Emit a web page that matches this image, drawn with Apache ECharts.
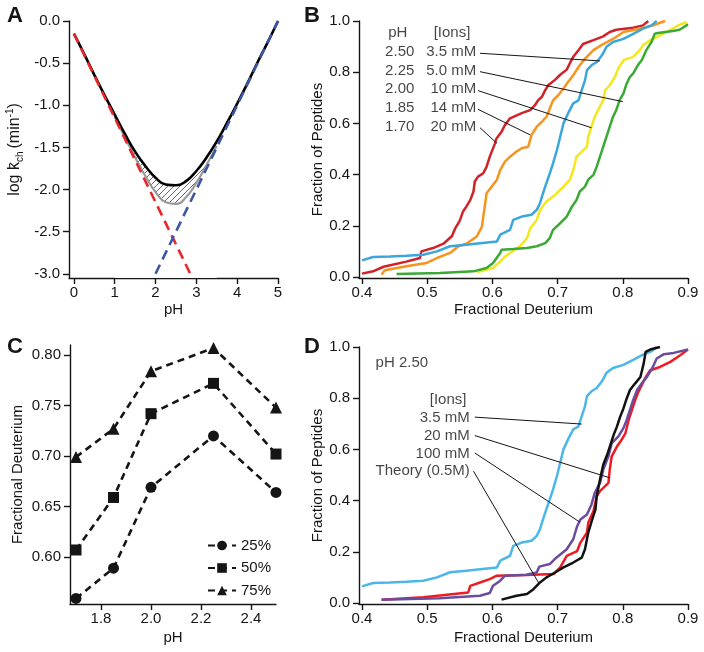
<!DOCTYPE html>
<html lang="en">
<head>
<meta charset="utf-8" />
<script src="https://cdn.jsdelivr.net/npm/echarts@6/dist/echarts.min.js"></script>
<title>HDX panels</title>
<style>
  html, body { margin: 0; padding: 0; background: #fff; }
  #fig { width: 704px; height: 652px; }
</style>
</head>
<body>
<div id="fig"></div>
<script>
// ---------- A: log kch vs pH
var acidLine = [[0, -0.15], [2.85, -3.0]];
var baseLine = [[2.0, -3.0], [5, 0]];
var kchTotal = [[0, -0.15], [0.25, -0.39], [0.5, -0.64], [0.75, -0.88], [1, -1.11], [1.25, -1.34],
  [1.5, -1.55], [1.75, -1.72], [2, -1.86], [2.25, -1.94], [2.5, -1.95], [2.75, -1.9], [3, -1.78],
  [3.25, -1.62], [3.5, -1.43], [3.75, -1.21], [4, -0.98], [4.25, -0.74], [4.5, -0.49], [4.75, -0.25], [5, 0]];
var kchLow = [[1, -1.14], [1.25, -1.38], [1.5, -1.62], [1.75, -1.84], [2, -2.03], [2.25, -2.15],
  [2.5, -2.17], [2.75, -2.09], [3, -1.92], [3.25, -1.71], [3.5, -1.48]];
var aYTicks = [-3, -2.5, -2, -1.5, -1, -0.5, 0];
var aXTicks = [0, 1, 2, 3, 4, 5];

// ---------- B: cumulative fraction vs fractional deuterium
var bIon20 = [[0.4, 0.013], [0.417, 0.022], [0.433, 0.04], [0.468, 0.06], [0.489, 0.074], [0.491, 0.1],
  [0.509, 0.113], [0.525, 0.13], [0.538, 0.16], [0.543, 0.19], [0.55, 0.22], [0.555, 0.256], [0.56, 0.275],
  [0.566, 0.3], [0.571, 0.334], [0.573, 0.373], [0.578, 0.392], [0.586, 0.405], [0.591, 0.43], [0.596, 0.47],
  [0.604, 0.522], [0.606, 0.54], [0.614, 0.567], [0.619, 0.593], [0.627, 0.62], [0.645, 0.64], [0.658, 0.652],
  [0.665, 0.67], [0.67, 0.69], [0.676, 0.704], [0.681, 0.73], [0.686, 0.75], [0.696, 0.77], [0.704, 0.79],
  [0.714, 0.81], [0.719, 0.836], [0.724, 0.86], [0.732, 0.886], [0.739, 0.91], [0.755, 0.925], [0.77, 0.94],
  [0.78, 0.957], [0.79, 0.966], [0.816, 0.974], [0.831, 0.983], [0.839, 1.0]];
var bIon14 = [[0.43, 0.01], [0.435, 0.026], [0.468, 0.042], [0.499, 0.055], [0.515, 0.074], [0.535, 0.094],
  [0.548, 0.12], [0.56, 0.13], [0.576, 0.158], [0.584, 0.197], [0.586, 0.236], [0.589, 0.288], [0.591, 0.327],
  [0.599, 0.353], [0.607, 0.38], [0.612, 0.418], [0.619, 0.45], [0.627, 0.47], [0.637, 0.49], [0.645, 0.503],
  [0.655, 0.509], [0.66, 0.555], [0.668, 0.587], [0.676, 0.607], [0.683, 0.626], [0.688, 0.658], [0.693, 0.69],
  [0.701, 0.71], [0.709, 0.736], [0.716, 0.762], [0.724, 0.788], [0.732, 0.82], [0.742, 0.853], [0.755, 0.886],
  [0.77, 0.91], [0.785, 0.93], [0.801, 0.957], [0.826, 0.97], [0.847, 0.983], [0.86, 0.996], [0.865, 1.0]];
var bIon10 = [[0.576, 0.018], [0.601, 0.035], [0.612, 0.061], [0.617, 0.074], [0.627, 0.094], [0.642, 0.12],
  [0.653, 0.152], [0.658, 0.19], [0.668, 0.223], [0.673, 0.262], [0.683, 0.295], [0.696, 0.32], [0.709, 0.353],
  [0.719, 0.38], [0.724, 0.418], [0.729, 0.47], [0.737, 0.49], [0.745, 0.509], [0.747, 0.548], [0.752, 0.587],
  [0.757, 0.626], [0.762, 0.652], [0.77, 0.69], [0.773, 0.73], [0.78, 0.749], [0.788, 0.782], [0.793, 0.814],
  [0.801, 0.847], [0.816, 0.86], [0.826, 0.886], [0.831, 0.905], [0.842, 0.925], [0.857, 0.944], [0.872, 0.964],
  [0.885, 0.983], [0.898, 0.996]];
var bIon5 = [[0.453, 0.012], [0.52, 0.016], [0.571, 0.022], [0.591, 0.035], [0.601, 0.055], [0.612, 0.094],
  [0.614, 0.106], [0.632, 0.109], [0.653, 0.113], [0.668, 0.12], [0.681, 0.132], [0.688, 0.152], [0.693, 0.184],
  [0.704, 0.21], [0.714, 0.236], [0.722, 0.275], [0.729, 0.301], [0.734, 0.334], [0.742, 0.353], [0.747, 0.38],
  [0.755, 0.399], [0.76, 0.431], [0.765, 0.47], [0.77, 0.509], [0.775, 0.548], [0.78, 0.587], [0.785, 0.626],
  [0.79, 0.652], [0.795, 0.69], [0.801, 0.717], [0.806, 0.756], [0.811, 0.782], [0.816, 0.795], [0.823, 0.827],
  [0.829, 0.847], [0.836, 0.886], [0.844, 0.918], [0.849, 0.95], [0.854, 0.953], [0.877, 0.961], [0.887, 0.966],
  [0.9, 0.987]];
var bIon35 = [[0.4, 0.065], [0.417, 0.078], [0.443, 0.08], [0.468, 0.083], [0.494, 0.087], [0.515, 0.1],
  [0.535, 0.12], [0.56, 0.126], [0.581, 0.132], [0.607, 0.139], [0.612, 0.165], [0.627, 0.184], [0.632, 0.223],
  [0.645, 0.236], [0.66, 0.243], [0.668, 0.262], [0.673, 0.288], [0.676, 0.314], [0.681, 0.353], [0.688, 0.405],
  [0.693, 0.444], [0.699, 0.496], [0.704, 0.548], [0.709, 0.6], [0.716, 0.639], [0.724, 0.678], [0.732, 0.69],
  [0.737, 0.73], [0.742, 0.768], [0.745, 0.808], [0.752, 0.827], [0.76, 0.84], [0.768, 0.866], [0.775, 0.899],
  [0.785, 0.918], [0.801, 0.93], [0.816, 0.95], [0.831, 0.97], [0.844, 0.983], [0.852, 1.0]];
var bRowsPH = ['2.50', '2.25', '2.00', '1.85', '1.70'];
var bRowsIon = ['3.5 mM', '5.0 mM', '10 mM', '14 mM', '20 mM'];
var fracTicks = [0, 0.2, 0.4, 0.6, 0.8, 1.0];
var deutTicks = [0.4, 0.5, 0.6, 0.7, 0.8, 0.9];

// ---------- C: fractional deuterium quantiles vs pH
var phList = [1.70, 1.85, 2.00, 2.25, 2.50];
var frac25 = [0.559, 0.589, 0.669, 0.720, 0.664];
var frac50 = [0.607, 0.659, 0.742, 0.772, 0.702];
var frac75 = [0.699, 0.727, 0.784, 0.807, 0.748];
var cYTicks = [0.60, 0.65, 0.70, 0.75, 0.80];
var cXTicks = [1.8, 2.0, 2.2, 2.4];

// ---------- D: pH 2.50, different ion strengths
var dIon20 = [[0.43, 0.013], [0.494, 0.022], [0.563, 0.041], [0.566, 0.067], [0.581, 0.08], [0.596, 0.093],
  [0.606, 0.106], [0.652, 0.109], [0.694, 0.113], [0.704, 0.139], [0.714, 0.184], [0.73, 0.203], [0.735, 0.236],
  [0.745, 0.275], [0.747, 0.313], [0.755, 0.359], [0.76, 0.417], [0.765, 0.437], [0.778, 0.469], [0.78, 0.521],
  [0.783, 0.573], [0.791, 0.611], [0.798, 0.637], [0.804, 0.663], [0.809, 0.715], [0.814, 0.754], [0.819, 0.793],
  [0.824, 0.825], [0.829, 0.851], [0.834, 0.877], [0.842, 0.909], [0.857, 0.922], [0.873, 0.942], [0.888, 0.968],
  [0.9, 0.99]];
var dIon100 = [[0.43, 0.013], [0.519, 0.018], [0.581, 0.028], [0.596, 0.039], [0.601, 0.067], [0.612, 0.087],
  [0.619, 0.106], [0.652, 0.11], [0.668, 0.119], [0.672, 0.142], [0.688, 0.152], [0.698, 0.177], [0.714, 0.21],
  [0.724, 0.249], [0.73, 0.3], [0.735, 0.326], [0.745, 0.346], [0.752, 0.385], [0.757, 0.43], [0.765, 0.469],
  [0.77, 0.521], [0.778, 0.573], [0.783, 0.624], [0.793, 0.65], [0.801, 0.683], [0.806, 0.715], [0.811, 0.754],
  [0.816, 0.793], [0.822, 0.832], [0.829, 0.858], [0.837, 0.883], [0.845, 0.916], [0.852, 0.955], [0.863, 0.972],
  [0.878, 0.977], [0.9, 0.99]];
var dTheory = [[0.614, 0.013], [0.637, 0.028], [0.653, 0.035], [0.663, 0.054], [0.673, 0.08], [0.683, 0.1],
  [0.696, 0.119], [0.709, 0.139], [0.724, 0.158], [0.737, 0.177], [0.742, 0.21], [0.747, 0.275], [0.753, 0.326],
  [0.758, 0.365], [0.76, 0.417], [0.765, 0.482], [0.77, 0.54], [0.776, 0.579], [0.781, 0.618], [0.786, 0.657],
  [0.791, 0.689], [0.796, 0.728], [0.801, 0.76], [0.806, 0.799], [0.811, 0.832], [0.819, 0.858], [0.827, 0.883],
  [0.832, 0.935], [0.835, 0.981], [0.842, 0.99], [0.857, 1.0]];
var dRows = ['[Ions]', '3.5 mM', '20 mM', '100 mM', 'Theory (0.5M)'];

var FONT = '"Liberation Sans", Arial, Helvetica, sans-serif';
var INK = '#151515';

function hatchPattern() {
  var c = document.createElement('canvas');
  c.width = 6; c.height = 6;
  var g = c.getContext('2d');
  g.strokeStyle = '#444';
  g.lineWidth = 0.8;
  g.beginPath();
  g.moveTo(0, 6); g.lineTo(6, 0);
  g.moveTo(-1, 1); g.lineTo(1, -1);
  g.moveTo(5, 7); g.lineTo(7, 5);
  g.stroke();
  return c;
}

function axisCommon(ticks, fmt, margin) {
  return {
    axisLine: { show: true, onZero: false, lineStyle: { color: INK, width: 1.4 } },
    axisTick: { show: true, length: 6, lineStyle: { color: INK, width: 1.4 }, customValues: ticks },
    axisLabel: { color: INK, fontSize: 15, fontFamily: FONT, margin: margin, customValues: ticks, formatter: fmt },
    splitLine: { show: false },
    nameTextStyle: { color: INK, fontSize: 15, fontFamily: FONT },
    nameLocation: 'middle'
  };
}
function xAx(idx, min, max, ticks, fmt, name, gap) {
  return Object.assign(axisCommon(ticks, fmt, 7), { type: 'value', gridIndex: idx, min: min, max: max, name: name, nameGap: gap });
}
function yAx(idx, min, max, ticks, fmt, name, gap) {
  return Object.assign(axisCommon(ticks, fmt, 9), { type: 'value', gridIndex: idx, min: min, max: max, name: name, nameGap: gap });
}
function f1(v) { return v.toFixed(1); }
function f0(v) { return v.toFixed(0); }
function f2(v) { return v.toFixed(2); }

function curve(idx, data, color, width, extra) {
  return Object.assign({
    type: 'line', xAxisIndex: idx, yAxisIndex: idx, data: data, symbol: 'none', silent: true,
    lineStyle: { color: color, width: width }
  }, extra || {});
}
function texts(idx, pts, pos) {
  return {
    type: 'scatter', xAxisIndex: idx, yAxisIndex: idx, symbolSize: 1, silent: true, z: 5,
    itemStyle: { color: 'transparent' }, data: pts,
    label: { show: true, position: pos, distance: 0, color: INK, fontSize: 15, fontFamily: FONT,
      formatter: function (p) { return p.data[2]; } }
  };
}
function leaders(idx, segs) {
  return {
    type: 'lines', coordinateSystem: 'cartesian2d', xAxisIndex: idx, yAxisIndex: idx, silent: true, z: 5,
    lineStyle: { color: INK, width: 1, opacity: 1 },
    data: segs.map(function (s) { return { coords: s }; })
  };
}

// hatched band: black curve filled with hatch, grey curve filled white on top of it
var hatchTop = kchTotal.filter(function (p) { return p[0] >= 1.25 && p[0] <= 3.25; });

var bRowY = [0.879, 0.805, 0.734, 0.660, 0.586];
var bLabels = [[0.455, 0.953, 'pH'], [0.538, 0.953, '[Ions]']];
var bLeft = [], bRight = [];
bRowY.forEach(function (y, i) {
  bLeft.push([0.481, y, bRowsPH[i]]);
  bRight.push([0.576, y, bRowsIon[i]]);
});
var dRowY = [0.794, 0.724, 0.654, 0.584, 0.515];
var dRight = dRows.map(function (t, i) { return [i === 0 ? 0.561 : 0.566, dRowY[i], t]; });

var chart = echarts.init(document.getElementById('fig'), null, { renderer: 'canvas' });
chart.setOption({
  animation: false,
  backgroundColor: '#fff',
  textStyle: { fontFamily: FONT },
  grid: [
    { left: 69, top: 21, width: 209, height: 257 },
    { left: 359, top: 21, width: 329, height: 257 },
    { left: 70, top: 345, width: 206, height: 259 },
    { left: 359, top: 347, width: 329, height: 257 }
  ],
  xAxis: [
    xAx(0, -0.12, 5, aXTicks, f0, 'pH', 24),
    xAx(1, 0.3954, 0.9, deutTicks, f1, 'Fractional Deuterium', 24),
    xAx(2, 1.676, 2.5, cXTicks, f1, 'pH', 26),
    xAx(3, 0.3954, 0.9, deutTicks, f1, 'Fractional Deuterium', 26)
  ],
  yAxis: [
    Object.assign(yAx(0, -3.05, 0, aYTicks, f1, '{t|log }{t|k\u0304}{s|ch}{t|(min}{p|-1}{t|)}', 44), {
      nameTextStyle: { color: INK, fontFamily: FONT, rich: {
        t: { fontSize: 16, lineHeight: 20, color: INK, fontFamily: FONT },
        s: { fontSize: 10, lineHeight: 12, verticalAlign: 'bottom', color: INK, fontFamily: FONT, padding: [0, 3, 0, 0] },
        p: { fontSize: 10, lineHeight: 12, verticalAlign: 'top', color: INK, fontFamily: FONT }
      } }
    }),
    yAx(1, -0.004, 1.0, fracTicks, f1, 'Fraction of Peptides', 33),
    yAx(2, 0.5535, 0.81, cYTicks, f2, 'Fractional Deuterium', 45),
    yAx(3, -0.004, 1.0, fracTicks, f1, 'Fraction of Peptides', 33)
  ],
  legend: {
    left: 202, top: 533, orient: 'vertical', itemWidth: 28, itemHeight: 12, itemGap: 7.5,
    textStyle: { color: INK, fontSize: 15, fontFamily: FONT },
    data: ['25%', '50%', '75%'], selectedMode: false
  },
  graphic: [
    { type: 'text', left: 7, top: 5, style: { text: 'A', font: 'bold 22px ' + FONT, fill: INK } },
    { type: 'text', left: 304, top: 5, style: { text: 'B', font: 'bold 22px ' + FONT, fill: INK } },
    { type: 'text', left: 7, top: 336, style: { text: 'C', font: 'bold 22px ' + FONT, fill: INK } },
    { type: 'text', left: 304, top: 336, style: { text: 'D', font: 'bold 22px ' + FONT, fill: INK } }
  ],
  series: [
    // A
    curve(0, hatchTop, 'transparent', 0, { smooth: true, z: 1,
      areaStyle: { color: { image: hatchPattern(), repeat: 'repeat' }, opacity: 1, origin: 'start' } }),
    curve(0, kchLow, '#999999', 2.2, { smooth: true, z: 2,
      areaStyle: { color: '#ffffff', opacity: 1, origin: 'start' } }),
    curve(0, kchTotal, '#000000', 2.6, { smooth: true, z: 3 }),
    curve(0, acidLine, '#e8262b', 2.6, { z: 4, lineStyle: { color: '#e8262b', width: 2.6, type: [10, 6] } }),
    curve(0, baseLine, '#3c55a5', 2.6, { z: 4, lineStyle: { color: '#3c55a5', width: 2.6, type: [10, 6] } }),
    // B
    curve(1, bIon20, '#cf2229', 2.5),
    curve(1, bIon14, '#f7941d', 2.5),
    curve(1, bIon10, '#f3e81e', 2.5),
    curve(1, bIon5, '#3aa935', 2.5),
    curve(1, bIon35, '#3ba6dc', 2.5),
    texts(1, bLabels, 'inside'),
    texts(1, bLeft, 'left'),
    texts(1, bRight, 'left'),
    leaders(1, [
      [[0.581, 0.874], [0.765, 0.844]],
      [[0.581, 0.802], [0.800, 0.685]],
      [[0.578, 0.728], [0.752, 0.583]],
      [[0.578, 0.655], [0.658, 0.555]],
      [[0.581, 0.583], [0.607, 0.522]]
    ]),
    // C
    {
      name: '25%', type: 'line', xAxisIndex: 2, yAxisIndex: 2, silent: true,
      data: phList.map(function (x, i) { return [x, frac25[i]]; }),
      symbol: 'circle', symbolSize: 11, itemStyle: { color: INK },
      lineStyle: { color: INK, width: 2.6, type: [7, 5] }
    },
    {
      name: '50%', type: 'line', xAxisIndex: 2, yAxisIndex: 2, silent: true,
      data: phList.map(function (x, i) { return [x, frac50[i]]; }),
      symbol: 'rect', symbolSize: 11, itemStyle: { color: INK },
      lineStyle: { color: INK, width: 2.6, type: [7, 5] }
    },
    {
      name: '75%', type: 'line', xAxisIndex: 2, yAxisIndex: 2, silent: true,
      data: phList.map(function (x, i) { return [x, frac75[i]]; }),
      symbol: 'triangle', symbolSize: 12, itemStyle: { color: INK },
      lineStyle: { color: INK, width: 2.6, type: [7, 5] }
    },
    // D
    curve(3, bIon35, '#4cb6e9', 2.5),
    curve(3, dIon20, '#ed1c24', 2.5),
    curve(3, dIon100, '#6a4c9f', 2.5),
    curve(3, dTheory, '#111111', 2.5),
    texts(3, [[0.42, 0.938, 'pH 2.50']], 'right'),
    texts(3, dRight, 'left'),
    leaders(3, [
      [[0.573, 0.726], [0.737, 0.699]],
      [[0.573, 0.654], [0.780, 0.489]],
      [[0.573, 0.586], [0.734, 0.316]],
      [[0.571, 0.515], [0.672, 0.074]]
    ])
  ]
});
</script>
</body>
</html>
